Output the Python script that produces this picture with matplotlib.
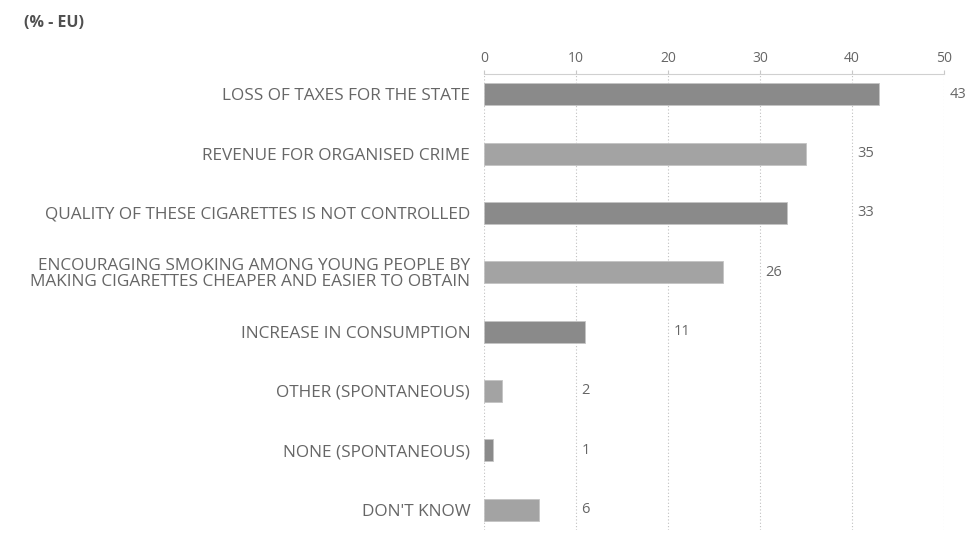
import numpy as np
import matplotlib.pyplot as plt

plt.rcParams['font.family'] = ['Open Sans', 'DejaVu Sans']

categories = [
    "LOSS OF TAXES FOR THE STATE",
    "REVENUE FOR ORGANISED CRIME",
    "QUALITY OF THESE CIGARETTES IS NOT CONTROLLED",
    "ENCOURAGING SMOKING AMONG YOUNG PEOPLE BY\nMAKING CIGARETTES CHEAPER AND EASIER TO OBTAIN",
    "INCREASE IN CONSUMPTION",
    "OTHER (SPONTANEOUS)",
    "NONE (SPONTANEOUS)",
    "DON'T KNOW",
]
values = [43, 35, 33, 26, 11, 2, 1, 6]
xticks = [0, 10, 20, 30, 40, 50]

txt = "#666666"
dark = "#8a8a8a"
light = "#a3a3a3"

fig = plt.figure(figsize=(9.7, 5.33), dpi=100)
ax = fig.add_axes([0.499, 0.006, 0.474, 0.855])

y = np.arange(len(values))
colors = [dark if i % 2 == 0 else light for i in range(len(values))]
ax.barh(y, values, height=0.37, color=colors, edgecolor="#c4c4c4", linewidth=0.6, zorder=3)

# value labels sit just past the next gridline
for yi, v in zip(y, values):
    ax.text((v // 10 + 1) * 10 + 0.6, yi, str(v), va="center", ha="left",
            fontsize=10.5, color=txt, clip_on=False)

ax.set_xlim(0, 50)
ax.set_ylim(len(values) - 0.66, -0.34)
ax.set_yticks(y)
ax.set_yticklabels(categories, fontsize=12.4, color=txt, linespacing=0.95)
ax.tick_params(axis="y", length=0, pad=10)

ax.xaxis.tick_top()
ax.set_xticks(xticks)
ax.tick_params(axis="x", length=3, color="#c8c8c8", labelsize=10, labelcolor=txt, pad=3)
ax.grid(axis="x", linestyle=(0, (1, 2)), color="#c0c0c0", linewidth=0.8, zorder=0)

for s in ["right", "bottom", "left"]:
    ax.spines[s].set_visible(False)
ax.spines["top"].set_color("#d0d0d0")

fig.text(0.025, 0.957, "(% - EU)", fontsize=11.5, fontweight="bold", color="#505050", va="center")

fig.savefig("out.png", dpi=100, facecolor="white")
